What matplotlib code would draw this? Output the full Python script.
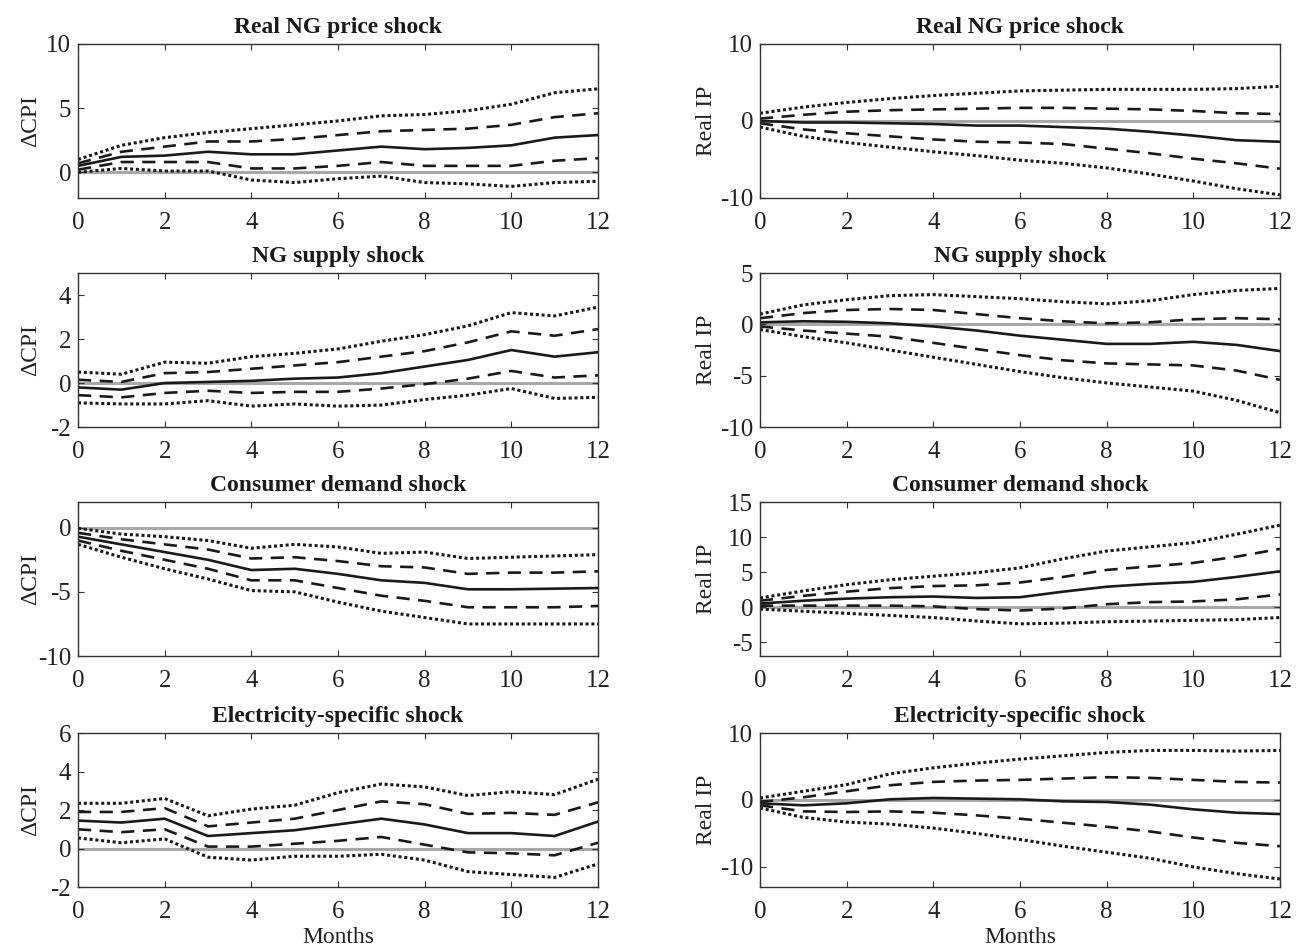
import numpy as np
import matplotlib
matplotlib.use("Agg")
import matplotlib.pyplot as plt

plt.rcParams['font.family'] = ['Liberation Serif', 'DejaVu Serif']
plt.rcParams['axes.unicode_minus'] = False

months = np.arange(13)

titles = ["Real NG price shock", "NG supply shock",
          "Consumer demand shock", "Electricity-specific shock"]

# left column: response of CPI inflation
cpi_med = [
    [0.5, 1.2, 1.3, 1.6, 1.4, 1.4, 1.7, 2.0, 1.8, 1.9, 2.1, 2.7, 2.9],
    [-0.2, -0.3, 0.0, 0.05, 0.1, 0.2, 0.25, 0.45, 0.75, 1.05, 1.5, 1.2, 1.4],
    [-0.7, -1.3, -1.9, -2.5, -3.3, -3.2, -3.6, -4.1, -4.3, -4.8, -4.8, -4.75, -4.7],
    [1.45, 1.35, 1.55, 0.65, 0.8, 0.95, 1.25, 1.55, 1.25, 0.8, 0.8, 0.65, 1.4],
]
cpi_up68 = [
    [0.7, 1.6, 2.0, 2.4, 2.4, 2.6, 2.9, 3.2, 3.3, 3.4, 3.7, 4.3, 4.6],
    [0.15, 0.05, 0.45, 0.5, 0.65, 0.8, 0.95, 1.2, 1.45, 1.85, 2.35, 2.15, 2.45],
    [-0.4, -0.9, -1.3, -1.7, -2.4, -2.3, -2.6, -3.0, -3.1, -3.6, -3.5, -3.5, -3.4],
    [1.9, 1.9, 2.1, 1.15, 1.35, 1.55, 2.0, 2.45, 2.3, 1.8, 1.85, 1.75, 2.4],
]
cpi_lo68 = [
    [0.2, 0.8, 0.8, 0.8, 0.3, 0.3, 0.5, 0.8, 0.5, 0.5, 0.5, 0.9, 1.1],
    [-0.55, -0.65, -0.45, -0.35, -0.45, -0.4, -0.4, -0.25, -0.05, 0.2, 0.55, 0.25, 0.35],
    [-1.0, -1.8, -2.5, -3.2, -4.1, -4.1, -4.7, -5.3, -5.7, -6.2, -6.2, -6.2, -6.1],
    [1.0, 0.85, 1.0, 0.1, 0.1, 0.25, 0.4, 0.6, 0.2, -0.2, -0.25, -0.35, 0.3],
]
cpi_up95 = [
    [1.0, 2.1, 2.7, 3.1, 3.4, 3.7, 4.0, 4.4, 4.5, 4.8, 5.3, 6.2, 6.5],
    [0.5, 0.4, 0.95, 0.9, 1.2, 1.35, 1.55, 1.9, 2.2, 2.6, 3.2, 3.05, 3.45],
    [-0.05, -0.5, -0.7, -1.0, -1.6, -1.3, -1.5, -2.0, -1.9, -2.4, -2.3, -2.2, -2.1],
    [2.35, 2.35, 2.6, 1.7, 2.05, 2.25, 2.9, 3.35, 3.2, 2.75, 2.95, 2.8, 3.6],
]
cpi_lo95 = [
    [0.0, 0.3, 0.1, 0.1, -0.6, -0.8, -0.5, -0.3, -0.8, -0.9, -1.1, -0.8, -0.7],
    [-0.9, -0.95, -0.95, -0.8, -1.05, -0.95, -1.05, -1.0, -0.75, -0.55, -0.25, -0.7, -0.65],
    [-1.3, -2.3, -3.2, -4.0, -4.9, -5.0, -5.8, -6.5, -7.0, -7.5, -7.5, -7.5, -7.5],
    [0.55, 0.3, 0.5, -0.45, -0.6, -0.4, -0.4, -0.3, -0.6, -1.2, -1.35, -1.5, -0.8],
]

# right column: response of real industrial production
ip_med = [
    [0.0, -0.2, -0.2, -0.3, -0.4, -0.6, -0.6, -0.8, -1.0, -1.4, -1.9, -2.5, -2.7],
    [0.2, 0.3, 0.25, 0.1, -0.2, -0.6, -1.1, -1.5, -1.9, -1.9, -1.7, -2.0, -2.6],
    [0.5, 0.9, 1.2, 1.4, 1.5, 1.3, 1.4, 2.2, 2.9, 3.3, 3.6, 4.3, 5.1],
    [-0.5, -0.8, -0.5, 0.1, 0.3, 0.2, 0.1, -0.2, -0.3, -0.7, -1.4, -1.9, -2.1],
]
ip_up68 = [
    [0.3, 0.8, 1.2, 1.4, 1.5, 1.6, 1.7, 1.7, 1.6, 1.5, 1.3, 1.0, 0.9],
    [0.6, 1.1, 1.4, 1.5, 1.4, 1.0, 0.6, 0.3, 0.1, 0.2, 0.5, 0.6, 0.5],
    [0.9, 1.6, 2.2, 2.7, 3.0, 3.1, 3.5, 4.3, 5.3, 5.8, 6.3, 7.2, 8.3],
    [-0.3, 0.4, 1.3, 2.2, 2.7, 2.9, 3.0, 3.2, 3.4, 3.3, 3.0, 2.7, 2.6],
]
ip_lo68 = [
    [-0.3, -1.1, -1.6, -2.0, -2.4, -2.7, -2.8, -3.0, -3.6, -4.2, -4.9, -5.5, -6.2],
    [-0.2, -0.6, -0.9, -1.2, -1.8, -2.4, -3.0, -3.5, -3.8, -3.9, -4.0, -4.5, -5.4],
    [0.2, 0.2, 0.2, 0.2, 0.1, -0.3, -0.5, -0.2, 0.4, 0.7, 0.8, 1.1, 1.8],
    [-0.8, -1.7, -1.8, -1.7, -1.9, -2.3, -2.8, -3.4, -4.0, -4.7, -5.6, -6.4, -6.9],
]
ip_up95 = [
    [1.0, 1.8, 2.4, 2.9, 3.3, 3.6, 3.9, 4.0, 4.1, 4.1, 4.1, 4.2, 4.5],
    [1.0, 1.9, 2.4, 2.8, 2.9, 2.7, 2.5, 2.2, 2.0, 2.3, 2.9, 3.3, 3.5],
    [1.3, 2.3, 3.2, 3.9, 4.4, 4.9, 5.6, 6.9, 8.0, 8.6, 9.2, 10.4, 11.7],
    [0.3, 1.3, 2.3, 3.9, 4.8, 5.5, 6.1, 6.6, 7.1, 7.4, 7.4, 7.3, 7.4],
]
ip_lo95 = [
    [-0.8, -2.0, -2.8, -3.4, -4.0, -4.5, -5.1, -5.5, -6.1, -6.9, -7.8, -8.8, -9.6],
    [-0.5, -1.2, -1.8, -2.5, -3.2, -3.9, -4.6, -5.2, -5.7, -6.1, -6.5, -7.4, -8.6],
    [-0.3, -0.6, -0.9, -1.2, -1.5, -2.0, -2.4, -2.3, -2.1, -2.0, -1.9, -1.8, -1.5],
    [-1.2, -2.6, -3.3, -3.6, -4.2, -5.0, -5.9, -6.9, -7.8, -8.7, -10.0, -11.0, -11.8],
]

cpi_ylim = [(-2, 10), (-2, 5), (-10, 2), (-2, 6)]
cpi_ticks = [[0, 5, 10], [-2, 0, 2, 4], [-10, -5, 0], [-2, 0, 2, 4, 6]]
ip_ylim = [(-10, 10), (-10, 5), (-7, 15), (-13, 10)]
ip_ticks = [[-10, 0, 10], [-10, -5, 0, 5], [-5, 0, 5, 10, 15], [-10, 0, 10]]

fig = plt.figure(figsize=(12.96, 9.49), dpi=100)

lefts = [0.0602, 0.5864]
bottoms = [0.7914, 0.5500, 0.3087, 0.0653]
w, h = 0.4012, 0.1623

FS = 17
TS = 18

def panel(ax, med, u68, l68, u95, l95, ylim, yticks, ylabel, title, last):
    ax.plot([0, 12], [0, 0], color='#a8a8a8', lw=2.2, zorder=1)
    ax.plot(months, u95, color='#1a1a1a', lw=2.2, ls=(0, (1, 0.9)))
    ax.plot(months, l95, color='#1a1a1a', lw=2.2, ls=(0, (1, 0.9)))
    ax.plot(months, u68, color='#1a1a1a', lw=1.9, ls=(0, (5, 3.2)))
    ax.plot(months, l68, color='#1a1a1a', lw=1.9, ls=(0, (5, 3.2)))
    ax.plot(months, med, color='#1a1a1a', lw=1.9)
    ax.set_xlim(0, 12)
    ax.set_ylim(*ylim)
    ax.set_xticks(range(0, 13, 2))
    ax.set_yticks(yticks)
    ax.tick_params(direction='in', top=True, right=True, labelsize=TS,
                   length=4, width=0.8, colors='#333333', labelcolor='#222222')
    ax.tick_params(axis='x', pad=10)
    ax.tick_params(axis='y', pad=5)
    for s in ax.spines.values():
        s.set_color('#333333')
        s.set_linewidth(1.0)
    ax.set_title(title, fontsize=FS, fontweight='bold', pad=8, color='#1a1a1a')
    ax.set_ylabel(ylabel, fontsize=FS, color='#222222')
    if last:
        ax.set_xlabel("Months", fontsize=FS, color='#222222', labelpad=3)

for i in range(4):
    axl = fig.add_axes([lefts[0], bottoms[i], w, h])
    panel(axl, cpi_med[i], cpi_up68[i], cpi_lo68[i], cpi_up95[i], cpi_lo95[i],
          cpi_ylim[i], cpi_ticks[i], "ΔCPI", titles[i], i == 3)
    axl.yaxis.set_label_coords(-0.07, 0.5)
    axr = fig.add_axes([lefts[1], bottoms[i], w, h])
    panel(axr, ip_med[i], ip_up68[i], ip_lo68[i], ip_up95[i], ip_lo95[i],
          ip_ylim[i], ip_ticks[i], "Real IP", titles[i], i == 3)
    axr.yaxis.set_label_coords(-0.082, 0.5)

fig.savefig("out.png", dpi=100)
